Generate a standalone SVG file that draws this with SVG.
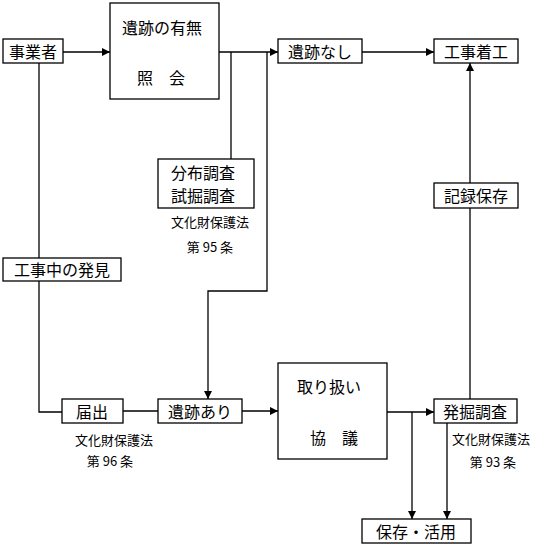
<svg xmlns="http://www.w3.org/2000/svg" width="536" height="548" viewBox="0 0 536 548">
<style>
.box{fill:#fff;stroke:#000;stroke-width:1.3}
.t{font-family:"Noto Sans CJK JP","Noto Sans CJK SC",sans-serif;font-size:16px;text-anchor:middle;dominant-baseline:central;fill:#000}
.s{font-family:"Noto Sans CJK JP","Noto Sans CJK SC",sans-serif;font-size:13px;text-anchor:middle;dominant-baseline:central;fill:#000}
.c{fill:none;stroke:#000;stroke-width:1.3}
</style>
<defs>
<marker id="a" viewBox="0 0 10 10" refX="10" refY="5" markerWidth="8" markerHeight="8" markerUnits="userSpaceOnUse" orient="auto">
<path d="M0,0L10,5L0,10z" fill="#000"/>
</marker>
</defs>
<rect width="536" height="548" fill="#fff"/>
<g id="connectors">
<path class="c" d="M63,52H110" marker-end="url(#a)"/>
<path class="c" d="M219,52H278" marker-end="url(#a)"/>
<path class="c" d="M231,52V159"/>
<path class="c" d="M267,52V291H208V399" marker-end="url(#a)"/>
<path class="c" d="M362,52H434" marker-end="url(#a)"/>
<path class="c" d="M39,63V258"/>
<path class="c" d="M39,281V412H62"/>
<path class="c" d="M123,411H158"/>
<path class="c" d="M242,411H278" marker-end="url(#a)"/>
<path class="c" d="M387,412H434" marker-end="url(#a)"/>
<path class="c" d="M412,412V519" marker-end="url(#a)"/>
<path class="c" d="M447,423V519" marker-end="url(#a)"/>
<path class="c" d="M470,399V208"/>
<path class="c" d="M470,183V63" marker-end="url(#a)"/>
</g>
<g id="jigyosha"><rect class="box" x="3" y="39" width="60" height="24"/><text class="t" x="33" y="51">事業者</text></g>
<g id="shokai"><rect class="box" x="110" y="3" width="109" height="96"/><text class="t" x="162" y="27">遺跡の有無</text><text class="t" x="161" y="77">照　会</text></g>
<g id="iseki-nashi"><rect class="box" x="278" y="39" width="84" height="24"/><text class="t" x="320" y="51">遺跡なし</text></g>
<g id="koji-chakko"><rect class="box" x="434" y="39" width="84" height="24"/><text class="t" x="476" y="51">工事着工</text></g>
<g id="bunpu"><rect class="box" x="158" y="159" width="96" height="49"/><text class="t" x="203" y="172">分布調査</text><text class="t" x="203" y="195">試掘調査</text><text class="s" x="210" y="221">文化財保護法</text><text class="s" x="210" y="246">第 95 条</text></g>
<g id="kiroku"><rect class="box" x="434" y="183" width="84" height="25"/><text class="t" x="476" y="195">記録保存</text></g>
<g id="hakken"><rect class="box" x="3" y="258" width="118" height="23"/><text class="t" x="62" y="269">工事中の発見</text></g>
<g id="todokede"><rect class="box" x="62" y="399" width="61" height="24"/><text class="t" x="92" y="411">届出</text><text class="s" x="114" y="439">文化財保護法</text><text class="s" x="110" y="460">第 96 条</text></g>
<g id="iseki-ari"><rect class="box" x="158" y="399" width="84" height="24"/><text class="t" x="200" y="411">遺跡あり</text></g>
<g id="kyogi"><rect class="box" x="278" y="363" width="109" height="96"/><text class="t" x="329" y="386">取り扱い</text><text class="t" x="334" y="437">協　議</text></g>
<g id="hakkutsu"><rect class="box" x="434" y="399" width="83" height="24"/><text class="t" x="475" y="411">発掘調査</text><text class="s" x="491" y="438">文化財保護法</text><text class="s" x="493" y="461">第 93 条</text></g>
<g id="hozon"><rect class="box" x="362" y="519" width="109" height="24"/><text class="t" x="416" y="531">保存・活用</text></g>
</svg>
